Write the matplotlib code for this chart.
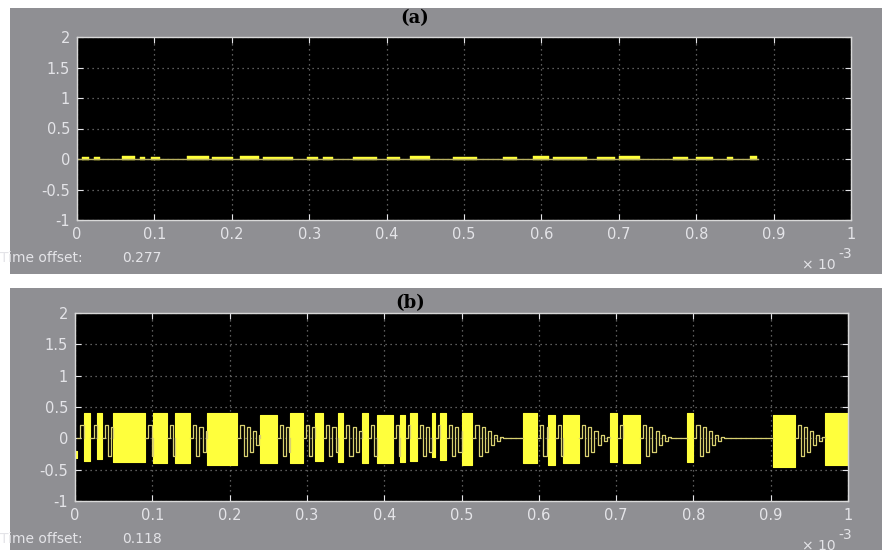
import matplotlib.pyplot as plt
import numpy as np
from matplotlib.patches import Rectangle

W, H = 882, 552

# time axis in units of 1e-3 s
xticks = [0, 0.1, 0.2, 0.3, 0.4, 0.5, 0.6, 0.7, 0.8, 0.9, 1]
xticklabels = ['0', '0.1', '0.2', '0.3', '0.4', '0.5', '0.6', '0.7', '0.8', '0.9', '1']
yticks = [-1, -0.5, 0, 0.5, 1, 1.5, 2]
yticklabels = ['-1', '-0.5', '0', '0.5', '1', '1.5', '2']

# (a) small blips around zero: start, end, top, bottom
a_start = [0.006, 0.022, 0.058, 0.081, 0.096, 0.142, 0.175, 0.211, 0.240, 0.297, 0.318, 0.357, 0.401, 0.430,
           0.486, 0.550, 0.589, 0.615, 0.672, 0.700, 0.770, 0.800, 0.840, 0.870]
a_end   = [0.016, 0.030, 0.075, 0.088, 0.107, 0.170, 0.202, 0.235, 0.279, 0.312, 0.331, 0.388, 0.417, 0.456,
           0.517, 0.568, 0.610, 0.659, 0.695, 0.727, 0.790, 0.822, 0.848, 0.879]
a_top   = [0.04, 0.03, 0.05, 0.03, 0.04, 0.05, 0.04, 0.05, 0.04, 0.03, 0.04, 0.04, 0.03, 0.05,
           0.04, 0.03, 0.05, 0.04, 0.04, 0.05, 0.03, 0.04, 0.04, 0.05]
a_bot   = [-0.02, -0.01, -0.02, -0.01, -0.02, -0.02, -0.02, -0.02, -0.02, -0.01, -0.02, -0.02, -0.01, -0.02,
           -0.02, -0.01, -0.02, -0.02, -0.02, -0.02, -0.01, -0.02, -0.01, -0.02]
a_line_end = 0.88

# (b) bursts: start, end, top, bottom
b_start = [0.000, 0.011, 0.028, 0.049, 0.101, 0.129, 0.171, 0.239, 0.278, 0.310, 0.340, 0.371, 0.391, 0.420,
           0.433, 0.462, 0.472, 0.501, 0.580, 0.612, 0.631, 0.692, 0.709, 0.792, 0.903, 0.970]
b_end   = [0.003, 0.020, 0.035, 0.091, 0.119, 0.149, 0.210, 0.261, 0.295, 0.321, 0.347, 0.379, 0.411, 0.427,
           0.442, 0.466, 0.480, 0.514, 0.598, 0.621, 0.652, 0.701, 0.731, 0.800, 0.931, 1.000]
b_top   = [-0.2, 0.40, 0.40, 0.40, 0.40, 0.40, 0.40, 0.38, 0.40, 0.40, 0.40, 0.40, 0.38, 0.38,
           0.40, 0.40, 0.40, 0.40, 0.40, 0.38, 0.38, 0.40, 0.38, 0.40, 0.37, 0.40]
b_bot   = [-0.32, -0.36, -0.33, -0.38, -0.40, -0.40, -0.42, -0.40, -0.40, -0.36, -0.38, -0.40, -0.40, -0.38,
           -0.36, -0.30, -0.34, -0.42, -0.40, -0.42, -0.40, -0.38, -0.40, -0.38, -0.45, -0.42]
# ringing seen after each burst (values at steps of 0.004)
ring = [0.22, -0.28, 0.18, -0.22, 0.12, -0.10, 0.06, -0.04, 0.02, 0.0]
ring_step = 0.004

gray = '#8f8f93'
txt = '#e4e4e8'
yellow = '#ffff3c'

fig = plt.figure(figsize=(W / 100, H / 100), dpi=100)
fig.patch.set_facecolor('white')


def px_box(l, t, r, b):
    return [l / W, 1 - b / H, (r - l) / W, (b - t) / H]


for (l, t, r, b) in [(10, 8, 882, 274), (10, 288, 882, 550)]:
    fig.patches.append(Rectangle(((l) / W, 1 - b / H), (r - l) / W, (b - t) / H,
                                 transform=fig.transFigure, facecolor=gray, edgecolor='none', zorder=-5))


def style(ax):
    ax.set_facecolor('black')
    ax.set_xlim(0, 1)
    ax.set_ylim(-1, 2)
    ax.set_xticks(xticks)
    ax.set_xticklabels(xticklabels)
    ax.set_yticks(yticks)
    ax.set_yticklabels(yticklabels)
    ax.tick_params(direction='in', colors=txt, labelcolor=txt, labelsize=10.5, length=4,
                   top=True, right=True, pad=5)
    for s in ax.spines.values():
        s.set_color('#d8d8d8')
        s.set_linewidth(1)
    ax.grid(True, color='#7a7a7a', linestyle=(0, (1, 3)), linewidth=0.9)
    ax.set_axisbelow(True)


ax1 = fig.add_axes(px_box(77, 37, 851, 220))
style(ax1)
ax1.plot([0, a_line_end], [0, 0], color='#b8b060', linewidth=1)
for s, e, t, b in zip(a_start, a_end, a_top, a_bot):
    ax1.fill_between([s, e], [b, b], [t, t], color=yellow, linewidth=0.3, edgecolor=yellow)

ax2 = fig.add_axes(px_box(75, 313, 848, 501))
style(ax2)
# thin line with ringing between bursts
for i, e in enumerate(b_end):
    nxt = b_start[i + 1] if i + 1 < len(b_start) else 1.0
    xs = [e]
    ys = [0.0]
    for k, v in enumerate(ring):
        xk = e + (k + 1) * ring_step
        if xk >= nxt:
            break
        xs.append(xk)
        ys.append(v)
    xs.append(nxt)
    ys.append(0.0)
    ax2.step(xs, ys, where='post', color='#d8d070', linewidth=0.9)
for s, e, t, b in zip(b_start, b_end, b_top, b_bot):
    ax2.fill_between([s, e], [b, b], [t, t], color=yellow, linewidth=0.8, edgecolor=yellow)

# titles and annotations
fig.text(415 / W, 1 - 18 / H, '(a)', fontsize=13, fontweight='bold', family='DejaVu Serif',
         ha='center', va='center', color='black')
fig.text(410 / W, 1 - 303 / H, '(b)', fontsize=13, fontweight='bold', family='DejaVu Serif',
         ha='center', va='center', color='black')

for ytxt, val, yexp in [(258, '0.277', 265), (539, '0.118', 546)]:
    fig.text(0 / W, 1 - ytxt / H, 'Time offset:', fontsize=10, color=txt, va='center')
    fig.text(122 / W, 1 - ytxt / H, val, fontsize=10, color=txt, va='center')
    fig.text(836 / W, 1 - yexp / H, '× 10', fontsize=10, color=txt, va='center', ha='right')
    fig.text(838 / W, 1 - (yexp - 11) / H, '-3', fontsize=10, color=txt, va='center', ha='left')

fig.savefig('out.png', dpi=100, facecolor='white')
